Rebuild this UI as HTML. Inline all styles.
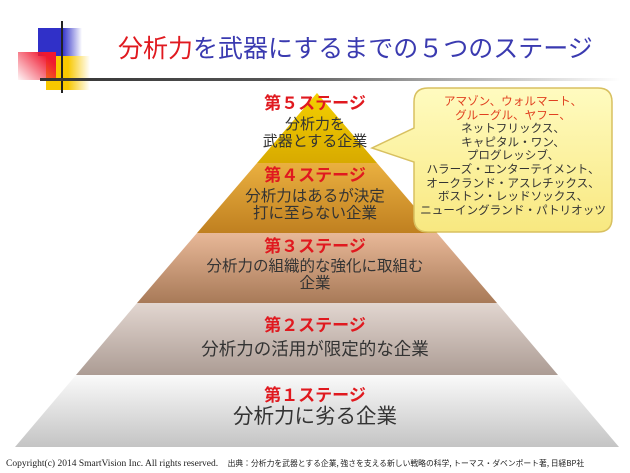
<!DOCTYPE html>
<html><head><meta charset="utf-8"><style>
body{margin:0;width:630px;height:473px;background:#fff;overflow:hidden;position:relative;font-family:"Liberation Sans","Noto Sans CJK JP",sans-serif}
.a{position:absolute}
.t{position:absolute;left:0;width:630px;text-align:center;color:#333;line-height:1.1}
.r{color:#e0191f;font-weight:bold}
</style></head><body>
<div class="a" style="left:38px;top:28px;width:44px;height:28px;background:linear-gradient(90deg,#3030c8 55%,rgba(48,48,200,0))"></div>
<div class="a" style="left:46px;top:56px;width:44px;height:34px;background:linear-gradient(90deg,#f8c800 50%,rgba(248,200,0,0))"></div>
<div class="a" style="left:18px;top:52px;width:38px;height:28px;background:linear-gradient(225deg,#f01830 20%,rgba(240,80,100,0.05))"></div>
<div class="a" style="left:61px;top:21px;width:2px;height:72px;background:#222"></div>
<div class="a" style="left:40px;top:78px;width:580px;height:3px;background:linear-gradient(90deg,#333,#555 40%,rgba(200,200,200,0))"></div>
<div class="a" style="left:118px;top:29px;font-size:25px;color:#3a3ab0;white-space:nowrap"><span style="color:#e0191f">分析力</span>を武器にするまでの５つのステージ</div>
<svg class="a" style="left:0;top:0" width="630" height="473">
<defs>
<linearGradient id="g5" x1="0" y1="0" x2="0" y2="1"><stop offset="0" stop-color="#f4d000"/><stop offset="1" stop-color="#d8aa00"/></linearGradient>
<linearGradient id="g4" x1="0" y1="0" x2="0" y2="1"><stop offset="0" stop-color="#eab040"/><stop offset="1" stop-color="#c08020"/></linearGradient>
<linearGradient id="g3" x1="0" y1="0" x2="0" y2="1"><stop offset="0" stop-color="#e8b898"/><stop offset="1" stop-color="#a87a58"/></linearGradient>
<linearGradient id="g2" x1="0" y1="0" x2="0" y2="1"><stop offset="0" stop-color="#e2d6d0"/><stop offset="1" stop-color="#ac9c94"/></linearGradient>
<linearGradient id="g1" x1="0" y1="0" x2="0" y2="1"><stop offset="0" stop-color="#fafafa"/><stop offset="1" stop-color="#c4c4c4"/></linearGradient>
<linearGradient id="gc" x1="0" y1="0" x2="0" y2="1"><stop offset="0" stop-color="#fffbc0"/><stop offset="1" stop-color="#f8e880"/></linearGradient>
</defs>
<polygon points="317,93 377,163 257,163" fill="url(#g5)"/>
<polygon points="257,163 377,163 437,233 197,233" fill="url(#g4)"/>
<polygon points="197,233 437,233 497,303 137,303" fill="url(#g3)"/>
<polygon points="137,303 497,303 558,375 76,375" fill="url(#g2)"/>
<polygon points="76,375 558,375 619,447 15,447" fill="url(#g1)"/>
<path d="M428,88 H598 Q612,88 612,102 V218 Q612,232 598,232 H428 Q414,232 414,218 V162 L372,148 L414,128 V102 Q414,88 428,88 Z" fill="url(#gc)" stroke="#d8c060" stroke-width="1.5"/>
</svg>
<div class="t" style="top:95px;font-size:17px"><span class="r">第５ステージ</span></div>
<div class="t" style="top:117px;font-size:15px">分析力を<br>武器とする企業</div>
<div class="t" style="top:167px;font-size:17px"><span class="r">第４ステージ</span></div>
<div class="t" style="top:188px;font-size:15.5px">分析力はあるが決定<br>打に至らない企業</div>
<div class="t" style="top:238px;font-size:17px"><span class="r">第３ステージ</span></div>
<div class="t" style="top:258px;font-size:15.5px">分析力の組織的な強化に取組む<br>企業</div>
<div class="t" style="top:317px;font-size:17px"><span class="r">第２ステージ</span></div>
<div class="t" style="top:340px;font-size:17.5px">分析力の活用が限定的な企業</div>
<div class="t" style="top:387px;font-size:17px"><span class="r">第１ステージ</span></div>
<div class="t" style="top:406px;font-size:20.5px">分析力に劣る企業</div>
<div class="a" style="left:412px;top:95px;width:202px;text-align:center;font-size:11.6px;line-height:13.6px;color:#333">
<span style="color:#e04020">アマゾン、ウォルマート、<br>グルーグル、ヤフー、</span><br>ネットフリックス、<br>キャピタル・ワン、<br>プログレッシブ、<br>ハラーズ・エンターテイメント、<br>オークランド・アスレチックス、<br>ボストン・レッドソックス、<br>ニューイングランド・パトリオッツ</div>
<div class="a" style="left:6px;top:458px;font-size:9.5px;color:#222;white-space:nowrap;font-family:'Liberation Serif','Noto Sans CJK JP',serif">Copyright(c) 2014 SmartVision Inc. All rights reserved.&nbsp;&nbsp;&nbsp; <span style="font-size:7.8px;font-family:'Noto Sans CJK JP',sans-serif">出典：分析力を武器とする企業, 強さを支える新しい戦略の科学, トーマス・ダベンポート著, 日経BP社</span></div>
</body></html>
